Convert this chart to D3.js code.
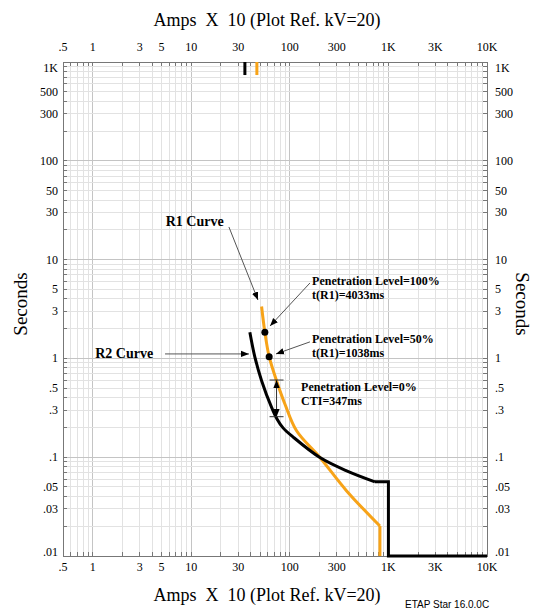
<!DOCTYPE html>
<html>
<head>
<meta charset="utf-8">
<script src="https://cdn.jsdelivr.net/npm/d3@7"></script>
<style>
  body { margin: 0; background: #fff; }
  text { font-family: "Liberation Serif", "Times New Roman", serif; }
</style>
</head>
<body>
<div id="chart"></div>
<script>
//~~~~~~~~~~~~~~~~~~DATA
// tick labels on the current (x) and time (y) axes
let xTickVals = [0.5, 1, 3, 5, 10, 30, 100, 300, 1000, 3000, 10000];
let xTickLabels = ['.5', '1', '3', '5', '10', '30', '100', '300', '1K', '3K', '10K'];
let yTickVals = [1000, 500, 300, 100, 50, 30, 10, 5, 3, 1, 0.5, 0.3, 0.1, 0.05, 0.03, 0.01];
let yTickLabels = ['1K', '500', '300', '100', '50', '30', '10', '5', '3', '1', '.5', '.3', '.1', '.05', '.03', '.01'];

// R1 relay curve (orange), amps x 10 and seconds
let r1Amps = [51.7, 55.8, 61.7, 73.3, 89.1, 117, 202, 377, 820];
let r1Sec = [3.35, 1.84, 1.04, 0.595, 0.346, 0.185, 0.0993, 0.0456, 0.0201];
let r1TailAmps = [820, 820];
let r1TailSec = [0.0201, 0.01];
let r1TopAmps = [46.3, 46.3];
let r1TopSec = [1000, 738];

// R2 relay curve (black)
let r2Amps = [39.3, 44.2, 51.7, 65.3, 74.1, 85.3, 108, 202, 377, 730];
let r2Sec = [1.84, 1.03, 0.595, 0.319, 0.244, 0.198, 0.160, 0.0993, 0.0728, 0.0563];
let r2TailAmps = [730, 1000, 1000, 10000];
let r2TailSec = [0.0563, 0.0563, 0.01, 0.01];
let r2TopAmps = [35, 35];
let r2TopSec = [1000, 738];

// penetration level points on R1
let dotAmps = [55.8, 61.7];
let dotSec = [1.84, 1.04];

// CTI interval
let ctiAmps = 73.3;
let ctiTop = 0.604;
let ctiBottom = 0.257;

//~~~~~~~~~~~~~~~~~~LAYOUT
let width = 534;
let height = 610;
let mLeft = 63, mRight = 487, mTop = 62, mBottom = 556;
let orange = '#f7a318';

let svg = d3.select('#chart')
  .append('svg')
  .attr('width', width)
  .attr('height', height);

let x = d3.scaleLog().domain([0.5, 10000]).range([mLeft, mRight]);
let y = d3.scaleLog().domain([0.01, 1000]).range([mBottom, mTop]);

let defs = svg.append('defs');
defs.append('marker')
  .attr('id', 'head')
  .attr('viewBox', '0 0 10 10')
  .attr('refX', 10).attr('refY', 5)
  .attr('markerWidth', 8).attr('markerHeight', 8)
  .attr('markerUnits', 'userSpaceOnUse')
  .attr('orient', 'auto-start-reverse')
  .append('path')
  .attr('d', 'M0,1 L10,5 L0,9 Z')
  .attr('fill', '#000');

//~~~~~~~~~~~~~~~~~~GRID
let xMinor = x.ticks();
let yMinor = y.ticks();
let isDecade = v => Math.abs(Math.log10(v) - Math.round(Math.log10(v))) < 1e-6;

svg.append('g').selectAll('line')
  .data(xMinor)
  .enter().append('line')
  .attr('x1', d => x(d)).attr('x2', d => x(d))
  .attr('y1', mTop).attr('y2', mBottom)
  .attr('stroke', d => isDecade(d) ? '#c4c4c4' : '#e2e2e2')
  .attr('stroke-width', 1)
  .attr('shape-rendering', 'crispEdges');

svg.append('g').selectAll('line')
  .data(yMinor)
  .enter().append('line')
  .attr('y1', d => y(d)).attr('y2', d => y(d))
  .attr('x1', mLeft).attr('x2', mRight)
  .attr('stroke', d => isDecade(d) ? '#c4c4c4' : '#e2e2e2')
  .attr('stroke-width', 1)
  .attr('shape-rendering', 'crispEdges');

// small inward ticks on all four sides
let tickLen = 4;
let tickG = svg.append('g')
  .attr('stroke', '#777')
  .attr('shape-rendering', 'crispEdges');
xMinor.forEach(function(d) {
  tickG.append('line').attr('x1', x(d)).attr('x2', x(d)).attr('y1', mTop).attr('y2', mTop + tickLen);
  tickG.append('line').attr('x1', x(d)).attr('x2', x(d)).attr('y1', mBottom).attr('y2', mBottom - tickLen);
});
yMinor.forEach(function(d) {
  tickG.append('line').attr('y1', y(d)).attr('y2', y(d)).attr('x1', mLeft).attr('x2', mLeft + tickLen);
  tickG.append('line').attr('y1', y(d)).attr('y2', y(d)).attr('x1', mRight).attr('x2', mRight - tickLen);
});

// frame
svg.append('rect')
  .attr('x', mLeft).attr('y', mTop)
  .attr('width', mRight - mLeft).attr('height', mBottom - mTop)
  .attr('fill', 'none')
  .attr('stroke', '#777')
  .attr('shape-rendering', 'crispEdges');

//~~~~~~~~~~~~~~~~~~TICK LABELS
let labelSize = 12;
xTickVals.forEach(function(d, i) {
  [mTop - 11, mBottom + 15].forEach(function(ty) {
    svg.append('text')
      .attr('x', x(d)).attr('y', ty)
      .attr('text-anchor', 'middle')
      .attr('font-size', labelSize)
      .text(xTickLabels[i]);
  });
});
yTickVals.forEach(function(d, i) {
  let ty = Math.max(mTop + 6, Math.min(mBottom - 4, y(d))) + 4;
  svg.append('text')
    .attr('x', mLeft - 5).attr('y', ty)
    .attr('text-anchor', 'end')
    .attr('font-size', labelSize)
    .text(yTickLabels[i]);
  svg.append('text')
    .attr('x', mRight + 8).attr('y', ty)
    .attr('text-anchor', 'start')
    .attr('font-size', labelSize)
    .text(yTickLabels[i]);
});

//~~~~~~~~~~~~~~~~~~TITLES
svg.append('text')
  .attr('x', 267).attr('y', 26)
  .attr('text-anchor', 'middle')
  .attr('font-size', 18)
  .attr('xml:space', 'preserve')
  .text('Amps  X  10 (Plot Ref. kV=20)');
svg.append('text')
  .attr('x', 267).attr('y', 601)
  .attr('text-anchor', 'middle')
  .attr('font-size', 18)
  .attr('xml:space', 'preserve')
  .text('Amps  X  10 (Plot Ref. kV=20)');
svg.append('text')
  .attr('transform', 'translate(27,304) rotate(-90)')
  .attr('text-anchor', 'middle')
  .attr('font-size', 19)
  .text('Seconds');
svg.append('text')
  .attr('transform', 'translate(516,304) rotate(90)')
  .attr('text-anchor', 'middle')
  .attr('font-size', 19)
  .text('Seconds');
svg.append('text')
  .attr('x', 405).attr('y', 608)
  .style('font-family', '"Liberation Sans", Arial, sans-serif')
  .attr('font-size', 10)
  .text('ETAP Star 16.0.0C');

//~~~~~~~~~~~~~~~~~~CURVES
let smooth = d3.line().x(d => x(d[0])).y(d => y(d[1])).curve(d3.curveCatmullRom.alpha(0.5));
let straight = d3.line().x(d => x(d[0])).y(d => y(d[1]));
let zip = (a, b) => a.map((v, i) => [v, b[i]]);

function drawCurve(pts, gen, color) {
  svg.append('path')
    .attr('d', gen(pts))
    .attr('fill', 'none')
    .attr('stroke', color)
    .attr('stroke-width', 3)
    .attr('stroke-linejoin', 'miter');
}

drawCurve(zip(r1Amps, r1Sec), smooth, orange);
drawCurve(zip(r1TailAmps, r1TailSec), straight, orange);
drawCurve(zip(r1TopAmps, r1TopSec), straight, orange);
drawCurve(zip(r2Amps, r2Sec), smooth, '#000');
drawCurve(zip(r2TailAmps, r2TailSec), straight, '#000');
drawCurve(zip(r2TopAmps, r2TopSec), straight, '#000');

svg.append('g').selectAll('circle')
  .data(zip(dotAmps, dotSec))
  .enter().append('circle')
  .attr('cx', d => x(d[0])).attr('cy', d => y(d[1]))
  .attr('r', 3.5)
  .attr('fill', '#000');

//~~~~~~~~~~~~~~~~~~ANNOTATIONS
function arrow(a0, s0, a1, s1) {
  svg.append('line')
    .attr('x1', x(a0)).attr('y1', y(s0))
    .attr('x2', x(a1)).attr('y2', y(s1))
    .attr('stroke', '#555')
    .attr('stroke-width', 1)
    .attr('marker-end', 'url(#head)');
}

function note(a, s, lines, size) {
  let t = svg.append('text')
    .attr('x', x(a)).attr('y', y(s))
    .attr('font-size', size)
    .attr('font-weight', 'bold');
  lines.forEach(function(l, i) {
    t.append('tspan').attr('x', x(a)).attr('dy', i ? 14 : 0).text(l);
  });
}

note(5.5, 21.9, ['R1 Curve'], 14);
arrow(24.1, 21.4, 47.5, 3.9);

note(1.06, 1.01, ['R2 Curve'], 14);
arrow(5.42, 1.11, 38.5, 1.11);

note(168, 5.53, ['Penetration Level=100%', 't(R1)=4033ms'], 12);
arrow(160, 5.8, 63, 2.13);

note(168, 1.43, ['Penetration Level=50%', 't(R1)=1038ms'], 12);
arrow(160, 1.47, 72.4, 1.11);

note(130, 0.468, ['Penetration Level=0%', 'CTI=347ms'], 12);

// CTI double arrow with end bars
svg.append('line')
  .attr('x1', x(ctiAmps)).attr('x2', x(ctiAmps))
  .attr('y1', y(ctiTop)).attr('y2', y(ctiBottom))
  .attr('stroke', '#333')
  .attr('stroke-width', 1)
  .attr('marker-start', 'url(#head)')
  .attr('marker-end', 'url(#head)');
[ctiTop, ctiBottom].forEach(function(s) {
  svg.append('line')
    .attr('x1', x(ctiAmps) - 7).attr('x2', x(ctiAmps) + 7)
    .attr('y1', y(s)).attr('y2', y(s))
    .attr('stroke', '#333')
    .attr('stroke-width', 1);
});
</script>
</body>
</html>
